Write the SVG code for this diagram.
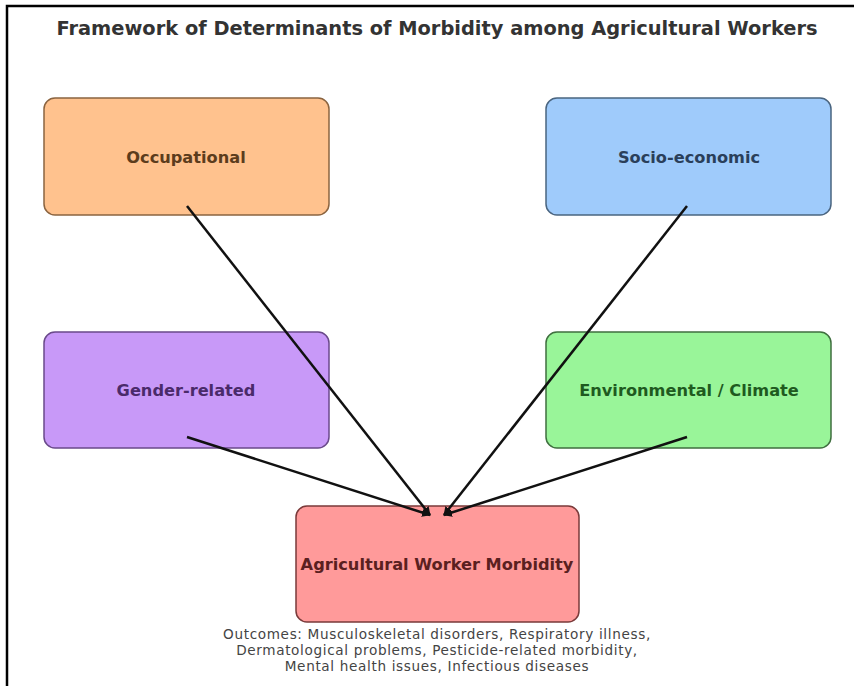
<svg xmlns="http://www.w3.org/2000/svg" width="854" height="686" viewBox="0 0 854 686">
<defs>
<marker id="ah" viewBox="0 0 10 10" refX="9" refY="5" markerWidth="3.5" markerHeight="3.5" orient="auto" markerUnits="strokeWidth">
<path d="M0,0 L10,5 L0,10 z" fill="#111"/>
</marker>
<style>
.box{stroke-width:1.5}
.lbl{font-family:"DejaVu Sans",sans-serif;font-weight:bold;font-size:16.2px;text-anchor:middle;dominant-baseline:central}
.title{font-family:"DejaVu Sans",sans-serif;font-weight:bold;font-size:19.4px;text-anchor:middle;fill:#333}
.out{font-family:"DejaVu Sans",sans-serif;font-size:13.6px;letter-spacing:0.65px;text-anchor:middle;fill:#444}
.conn{stroke:#111;stroke-width:2.5;fill:none;marker-end:url(#ah)}
</style>
</defs>
<rect width="854" height="686" fill="#fff"/>
<path d="M7,686 V6 H854" fill="none" stroke="#000" stroke-width="2.5"/>
<text class="title" x="437" y="35">Framework of Determinants of Morbidity among Agricultural Workers</text>
<g id="occupational">
<rect class="box" x="44" y="98" width="285" height="117" rx="11" fill="#ffc28e" stroke="#8b6440"/>
<text class="lbl" x="186" y="157" fill="#5c3c1c">Occupational</text>
</g>
<g id="socio-economic">
<rect class="box" x="546" y="98" width="285" height="117" rx="11" fill="#9fcbfb" stroke="#4a6580"/>
<text class="lbl" x="689" y="157" fill="#2a3f5a">Socio-economic</text>
</g>
<g id="gender">
<rect class="box" x="44" y="332" width="285" height="116" rx="11" fill="#c899f8" stroke="#6a4a8a"/>
<text class="lbl" x="186" y="390" fill="#4a2a6a">Gender-related</text>
</g>
<g id="environmental">
<rect class="box" x="546" y="332" width="285" height="116" rx="11" fill="#99f599" stroke="#3f6f3f"/>
<text class="lbl" x="689" y="390" fill="#1f5a1f">Environmental / Climate</text>
</g>
<g id="morbidity">
<rect class="box" x="296" y="506" width="283" height="116" rx="11" fill="#ff9a9a" stroke="#7a3a3a"/>
<text class="lbl" x="437" y="564" fill="#5a2020">Agricultural Worker Morbidity</text>
</g>
<g id="connectors">
<line class="conn" x1="187" y1="206" x2="430" y2="515"/>
<line class="conn" x1="687" y1="206" x2="444" y2="515"/>
<line class="conn" x1="187" y1="437" x2="430" y2="515"/>
<line class="conn" x1="687" y1="437" x2="444" y2="515"/>
</g>
<text class="out" x="437" y="639">Outcomes: Musculoskeletal disorders, Respiratory illness,</text>
<text class="out" x="437" y="655">Dermatological problems, Pesticide-related morbidity,</text>
<text class="out" x="437" y="671">Mental health issues, Infectious diseases</text>
</svg>
